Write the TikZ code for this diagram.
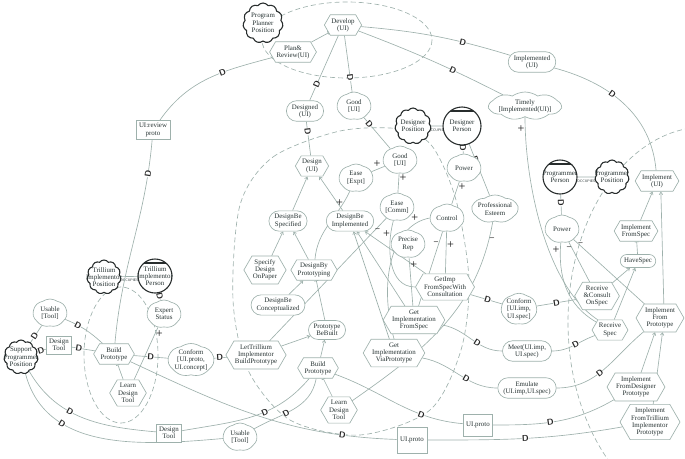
\documentclass[tikz,border=0pt]{standalone}
\usepackage{fontspec}
\setmainfont{Liberation Serif}
\usetikzlibrary{shapes.misc,shapes.symbols,shapes.geometric,arrows.meta,backgrounds}
\definecolor{lc}{RGB}{158,177,172}
\definecolor{tc}{RGB}{40,52,52}
\definecolor{ac}{RGB}{40,45,45}
\begin{document}
\begin{tikzpicture}[x=1pt,y=-1pt,
 font=\fontsize{6.9}{7.3}\selectfont, text=tc,
 base/.style={draw=lc, fill=white, align=center, line width=0.65pt},
 tsk/.style={base, signal, signal to=west and east, signal pointer angle=120, inner xsep=1pt, inner ysep=3.5pt},
 gl/.style={base, rounded rectangle, inner xsep=3pt, inner ysep=3.5pt},
 sg/.style={base, cloud, cloud puffs=7, cloud puff arc=70, cloud ignores aspect, inner sep=0pt, minimum width=34pt, minimum height=28pt},
 rs/.style={base, rectangle, inner sep=3pt},
 posn/.style={draw=ac, line width=1.1pt, fill=white, cloud, cloud puffs=11, cloud puff arc=110, minimum width=36pt, minimum height=36pt, inner sep=0pt},
 agent/.style={draw=ac, line width=1.1pt, fill=white, circle, minimum size=36pt, inner sep=0pt,
   path picture={\draw[ac,line width=1.1pt] ([yshift=-4pt]path picture bounding box.north west) -- ([yshift=-4pt]path picture bounding box.north east);}},
 atext/.style={label={[align=center,text=tc,inner sep=0pt]center:#1}},
 bnd/.style={draw=lc, line width=0.65pt, dash pattern=on 5pt off 3pt},
 dep/.style={draw=lc, line width=0.65pt},
 ct/.style={draw=lc, line width=0.65pt},
 me/.style={draw=lc, line width=0.65pt, -{Straight Barb[length=2.5pt,width=3.5pt]}},
 dc/.style={draw=lc, line width=0.65pt, -{Bar[width=4pt]}},
 dmark/.style={sloped, font=\sffamily\bfseries\fontsize{8.5}{8.5}\selectfont, text=black!85, inner sep=0pt, fill=white},
 cl/.style={font=\sffamily\bfseries\fontsize{8}{8}\selectfont, text=black!85, inner sep=0.5pt},
 occ/.style={font=\sffamily\fontsize{3.6}{3.8}\selectfont, fill=white, inner sep=0.5pt, text=tc}
]
\useasboundingbox (0,0) rectangle (685,458);
\clip (0,0) rectangle (685,458);

% actors
\node[posn,minimum width=40pt,minimum height=40pt,atext={Program\\Planner\\Position}] (ppp) at (263,23) {};
\node[posn,atext={Designer\\Position}] (dpos) at (413,126) {};
\node[agent,minimum size=38pt,atext={Designer\\Person}] (dper) at (462,126) {};
\node[agent,minimum size=34pt,atext={Programmer\\Person}] (pper) at (560,177) {};
\node[posn,minimum width=34pt,minimum height=34pt,atext={Programmer\\Position}] (ppos) at (612,177) {};
\node[posn,minimum width=34pt,minimum height=34pt,atext={Trillium\\Implementor\\Position}] (tpos) at (104,277) {};
\node[agent,minimum size=34pt,atext={Trillium\\Implementor\\Person}] (tper) at (155,276) {};
\node[posn,minimum width=34pt,minimum height=34pt,atext={Support\\Programmer\\Position}] (spp) at (21,357) {};

% top
\node[tsk] (dev) at (343,25) {Develop\\(UI)};
\node[tsk] (planrev) at (293,52) {Plan\&\\Review(UI)};
\node[gl] (designed) at (305,111) {Designed\\(UI)};
\node[sg] (good1) at (354,106) {Good\\{[UI]}};
\node[gl] (implemented) at (532,62) {Implemented\\(UI)};
\node[sg,cloud puffs=9] (timely) at (525,106) {Timely\\{[Implemented(UI)]}};
\node[rs] (uirev) at (153,130) {UI:review\\proto};

% designer
\node[tsk] (design) at (312,166) {Design\\(UI)};
\node[sg] (easeexpt) at (356,178) {Ease\\{[Expt]}};
\node[sg] (good2) at (400,160) {Good\\{[UI]}};
\node[sg] (powd) at (464,168) {Power};
\node[sg] (easecomm) at (397,207) {Ease\\{[Comm]}};
\node[sg] (control) at (447,218) {Control};
\node[sg] (profest) at (495,209) {Professional\\Esteem};
\node[gl] (dbspec) at (288,221) {DesignBe\\Specified};
\node[gl] (dbimpl) at (350,221) {DesignBe\\Implemented};
\node[sg] (precrep) at (408,244) {Precise\\Rep};
\node[tsk] (specpaper) at (265,270) {Specify\\Design\\OnPaper};
\node[tsk] (dbyproto) at (314,270) {DesignBy\\Prototyping};
\node[gl] (dbconc) at (278,305) {DesignBe\\Conceptualized};
\node[tsk] (getimpcons) at (445,287) {GetImp\\FromSpecWith\\Consultation};
\node[tsk] (getimpspec) at (414,320) {Get\\Implementation\\FromSpec};
\node[tsk] (getimpproto) at (394,353) {Get\\Implementation\\ViaPrototype};
\node[gl] (protobuilt) at (327,330) {Prototype\\BeBuilt};
\node[tsk] (lettril) at (256,355) {LetTrillium\\Implementor\\BuildPrototype};
\node[tsk] (buildd) at (318,368) {Build\\Prototype};
\node[tsk] (learnd) at (339,410) {Learn\\Design\\Tool};

% left
\node[sg] (usable1) at (50,313) {Usable\\{[Tool]}};
\node[rs] (dtool1) at (59,345) {Design\\Tool};
\node[sg] (expert) at (164,314) {Expert\\Status};
\node[tsk] (buildt) at (114,354) {Build\\Prototype};
\node[tsk] (learnt) at (128,393) {Learn\\Design\\Tool};
\node[sg] (conf1) at (191,360) {Conform\\{[UI.proto,}\\UI.concept]};
\node[rs] (dtool2) at (169,433) {Design\\Tool};
\node[sg] (usable2) at (240,437) {Usable\\{[Tool]}};
\node[rs,minimum width=30pt,minimum height=26pt] (uiproto1) at (412,440) {UI.proto};

% right
\node[sg] (conf2) at (519,309) {Conform\\{[UI.imp,}\\UI.spec]};
\node[gl] (meet) at (527,351) {Meet(UI.imp,\\UI.spec)};
\node[gl] (emulate) at (527,388) {Emulate\\(UI.imp,UI.spec)};
\node[rs,minimum width=26pt,minimum height=22pt] (uiproto2) at (478,425) {UI.proto};
\node[sg] (powp) at (562,229) {Power};
\node[tsk] (recons) at (597,296) {Receive\\\&Consult\\OnSpec};
\node[tsk] (recspec) at (610,330) {Receive\\Spec};
\node[gl] (havespec) at (638,261) {HaveSpec};
\node[tsk] (implspec) at (636,231) {Implement\\FromSpec};
\node[tsk] (implui) at (657,181) {Implement\\(UI)};
\node[tsk] (implproto) at (660,318) {Implement\\From\\Prototype};
\node[tsk] (impldes) at (636,387) {Implement\\FromDesigner\\Prototype};
\node[tsk] (impltril) at (650,422) {Implement\\FromTrillium\\Implementor\\Prototype};

\begin{scope}[on background layer]
% boundaries
\draw[bnd] (347,40) ellipse [x radius=85, y radius=38];
\draw[bnd] plot[smooth cycle] coordinates {(240,205) (273,157) (340,131) (400,129) (432,146) (456,200) (469,280) (461,350) (430,410) (360,435) (290,420) (248,370) (233,300)};
\draw[bnd] (121,355) ellipse [x radius=37, y radius=68];
\draw[bnd] (705,322) ellipse [x radius=137, y radius=195];

% occupies
\draw[ct] (dpos) -- node[occ,yshift=-4pt]{OCCUPIES} (dper);
\draw[ct] (pper) -- node[occ,yshift=-4pt]{OCCUPIES} (ppos);
\draw[ct] (tpos) -- node[occ,yshift=-4pt]{OCCUPIES} (tper);

% decompositions / means-ends
\draw[dc] (planrev) -- (dev);
\draw[me] (dbspec) -- (design);
\draw[me] (dbimpl) -- (design);
\draw[me] (specpaper) -- (dbspec);
\draw[me] (dbyproto) -- (dbspec);
\draw[me] (dbconc) -- (dbyproto);
\draw[dc] (protobuilt) -- (dbyproto);
\draw[me] (lettril) -- (protobuilt);
\draw[me] (buildd) -- (protobuilt);
\draw[dc] (learnd) -- (buildd);
\draw[me] (getimpcons) -- (dbimpl);
\draw[me] (getimpspec) -- (dbimpl);
\draw[me] (getimpproto) -- (dbimpl);
\draw[me] (implspec) -- (implui);
\draw[me] (implproto.75) -- (implui.-70);
\draw[dc] (havespec) -- (implspec);
\draw[me] (recons) -- (havespec);
\draw[me] (recspec) -- (havespec);
\draw[me] (impldes) -- (implproto);
\draw[me] (impltril.80) -- (implproto.-80);
\draw[dc] (learnt) -- (buildt);

% contributions
\draw[ct] (learnt) -- node[cl,pos=.88,right]{+} (expert);
\draw[ct] (easeexpt) -- node[cl,pos=.75,above left]{+} (good2);
\draw[ct] (easecomm) -- node[cl,pos=.8,right]{+} (good2);
\draw[ct] (dbyproto) to[out=85,in=-115] node[cl,pos=.85,left]{+} (easeexpt);
\draw[ct] (control) -- node[cl,pos=.8,right]{+} (powd);
\draw[ct] (getimpcons) to[out=180,in=-105] node[cl,pos=.85,left]{+} (easecomm);
\draw[ct] (lettril) -- node[cl,pos=.9,right]{--} (easecomm);
\draw[ct] (getimpspec) -- node[cl,pos=.85,right]{+} (precrep);
\draw[ct] (getimpspec) -- node[cl,pos=.85,left]{--} (control);
\draw[ct] (getimpcons) -- node[cl,pos=.7,right]{+} (control);
\draw[ct] (getimpproto.north) .. controls (378,280) and (392,225) .. node[cl,pos=.9,above left]{+} (control.west);
\draw[ct] (learnd) to[out=35,in=-100] node[cl,pos=.93,right]{--} (profest);
\draw[ct] (recspec) to[out=150,in=-95] node[cl,pos=.93,left]{+} (powp);
\draw[ct] (recons) -- node[cl,pos=.85,left]{--} (powp);
\draw[ct] (implproto) -- node[cl,pos=.9,above]{--} (powp);
\draw[ct] (recspec.north west) .. controls (545,285) and (525,180) .. node[cl,pos=.94,left]{+} (timely);

% dependencies
\draw[dep] (dev) to[bend left=6] node[dmark,pos=.69]{D} (implemented);
\draw[dep] (implemented) to[out=-15,in=95] node[dmark,pos=.4]{D} (implui);
\draw[dep] (dev) to[bend left=3] node[dmark,pos=.66]{D} (timely);
\draw[dep] (planrev) to[out=195,in=55] node[dmark,pos=.38]{D} (uirev);
\draw[dep] (uirev) to[out=-95,in=85] node[dmark,pos=.15]{D} (buildt);
\draw[dep] (dev) -- node[dmark,pos=.75]{D} (designed);
\draw[dep] (designed) -- node[dmark,pos=.3]{D} (design);
\draw[dep] (dev) -- node[dmark,pos=.75]{D} (good1);
\draw[dep] (good1) -- node[dmark,pos=.2]{D} (good2);
\draw[dep] (dper) -- node[dmark,pos=.3]{D} (powd);
\draw[dep] (dper) -- node[dmark,pos=.3]{D} (profest);
\draw[dep] (pper) -- node[dmark,pos=.4]{D} (powp);
\draw[dep] (tper) -- node[dmark,pos=.45]{D} (expert);
\draw[dep] (spp) -- node[dmark,pos=.35]{D} (usable1);
\draw[dep] (spp) -- node[dmark,pos=.4]{D} (dtool1);
\draw[dep] (usable1) to[bend left=10] node[dmark,pos=.3]{D} (buildt);
\draw[dep] (dtool1) -- node[dmark,pos=.3]{D} (buildt);
\draw[dep] (buildt) -- node[dmark,pos=.5]{D} (conf1);
\draw[dep] (conf1) -- node[dmark,pos=.45]{D} (lettril);
\draw[dep] (spp) to[out=-60,in=175] node[dmark,pos=.4]{D} (dtool2);
\draw[dep] (spp) to[out=-75,in=185] node[dmark,pos=.3]{D} (usable2);
\draw[dep] (dtool2) to[out=10,in=-130] node[dmark,pos=.6]{D} (buildd);
\draw[dep] (usable2) to[out=30,in=-100] node[dmark,pos=.4]{D} (buildd);
\draw[dep] (buildt) to[out=-25,in=178] node[dmark,pos=.82]{D} (uiproto1);
\draw[dep] (buildd) to[out=-20,in=175] node[dmark,pos=.7]{D} (uiproto2);
\draw[dep] (uiproto2) to[out=0,in=-150] node[dmark,pos=.45]{D} (impldes);
\draw[dep] (uiproto1) to[out=0,in=-170] node[dmark,pos=.5]{D} (impltril);
\draw[dep] (getimpcons) -- node[dmark,pos=.55]{D} (conf2);
\draw[dep] (conf2) -- node[dmark,pos=.5]{D} (recons);
\draw[dep] (getimpspec) to[out=-10,in=180] node[dmark,pos=.6]{D} (meet);
\draw[dep] (meet) to[out=0,in=200] node[dmark,pos=.55]{D} (recspec);
\draw[dep] (getimpproto) to[out=-10,in=180] node[dmark,pos=.6]{D} (emulate);
\draw[dep] (emulate) to[out=0,in=-140] node[dmark,pos=.45]{D} (implproto);
\end{scope}
\end{tikzpicture}
\end{document}
